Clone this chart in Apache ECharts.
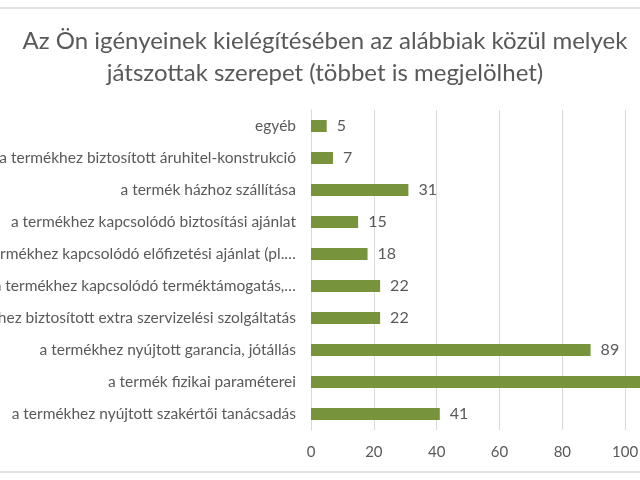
<!DOCTYPE html>
<html><head><meta charset="utf-8">
<script src="https://cdn.jsdelivr.net/npm/echarts@6/dist/echarts.min.js"></script>
<style>html,body{margin:0;padding:0;overflow:hidden;background:#fff;width:640px;height:480px}#c{width:800px;height:480px}</style>
</head><body><div id="c"></div>
<script>
var titleText = 'Az Ön igényeinek kielégítésében az alábbiak közül melyek\njátszottak szerepet (többet is megjelölhet)';
var categories = [
  'egyéb',
  'a termékhez biztosított áruhitel-konstrukció',
  'a termék házhoz szállítása',
  'a termékhez kapcsolódó biztosítási ajánlat',
  'a termékhez kapcsolódó előfizetési ajánlat (pl.…',
  'a termékhez kapcsolódó terméktámogatás,…',
  'a termékhez biztosított extra szervizelési szolgáltatás',
  'a termékhez nyújtott garancia, jótállás',
  'a termék fizikai paraméterei',
  'a termékhez nyújtott szakértői tanácsadás'
];
var values = [5, 7, 31, 15, 18, 22, 22, 89, 112, 41];
var xTicks = [0, 20, 40, 60, 80, 100, 120];

var chart = echarts.init(document.getElementById('c'));
var font = 'Lato, "Open Sans", sans-serif';
chart.setOption({
  animation: false,
  title: {
    text: titleText, left: 320, top: 20, textAlign: 'center',
    textStyle: {fontFamily: font, fontSize: 24, fontWeight: 'normal', color: '#595959', lineHeight: 32}
  },
  graphic: [{
    type: 'rect', shape: {x: -5, y: 8, width: 660, height: 464},
    style: {fill: 'none', stroke: '#d9d9d9', lineWidth: 1.5}, silent: true
  }],
  grid: {left: 311, top: 110, width: 377, height: 320, containLabel: false, outerBoundsMode: 'none'},
  xAxis: {
    type: 'value', min: xTicks[0], max: xTicks[xTicks.length - 1], interval: 20,
    axisLine: {show: false}, axisTick: {show: false},
    splitLine: {lineStyle: {color: '#d9d9d9', width: 1}},
    axisLabel: {fontFamily: font, fontSize: 15, color: '#595959', margin: 15}
  },
  yAxis: {
    type: 'category', data: categories, inverse: true,
    axisLine: {show: true, lineStyle: {color: '#d9d9d9'}}, axisTick: {show: false},
    axisLabel: {fontFamily: font, fontSize: 15.5, color: '#595959', margin: 15}
  },
  series: [{
    type: 'bar', data: values, barWidth: 12,
    itemStyle: {color: '#77933c'},
    label: {show: true, position: 'right', distance: 10, fontFamily: font, fontSize: 16, color: '#595959'}
  }]
});
</script></body></html>
